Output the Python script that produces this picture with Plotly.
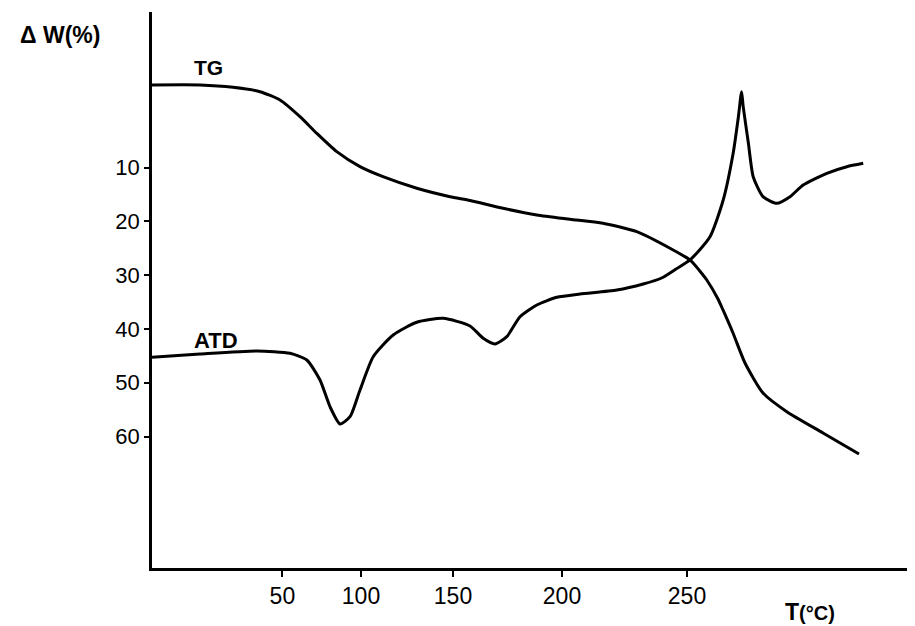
import plotly.graph_objects as go

# x: distance along the recorder chart (arbitrary units); temperature labels
# are placed where the recorder reached each temperature (non-uniform heating).
tg_x = [0, 12, 20.25, 27, 32, 37, 41.2, 46.2, 52, 57.75, 66.2, 74.5, 79.5, 87.75,
        96.2, 104.5, 112.75, 121.2, 129.5, 134.5, 137.75, 138.7, 141.5, 142.75,
        145.25, 148.25, 152.75, 158.7, 167.75, 176.75]
tg_w = [-5.33, -5.33, -4.90, -4.08, -2.54, 0.56, 3.65, 7.06, 9.85, 11.71, 13.86,
        15.42, 16.13, 17.58, 18.82, 19.62, 20.37, 21.93, 25.01, 27.18, 29.97, 30.9,
        34.43, 36.47, 40.75, 46.32, 51.89, 55.37, 59.32, 63.23]

atd_x = [0, 12, 26.2, 34.5, 38.7, 42, 44.5, 47, 49.5, 52, 55.3, 60.3, 66.2, 72.8,
         79.5, 82.8, 85.75, 88.7, 92, 96.2, 101.2, 107, 116.2, 122.8, 127.4, 131,
         134.5, 139.5, 142.8, 145.3, 146.6, 147.4, 147.8, 149.1, 150.3, 152.75,
         156.2, 159.5, 162.8, 168.7, 173.7, 177.8]
atd_s = [45.26, 44.65, 44.09, 44.52, 45.76, 49.48, 54.44, 57.65, 56.3, 51.34, 45.15,
         41.12, 38.76, 38.02, 39.45, 41.73, 42.79, 41.43, 37.72, 35.54, 34.11, 33.5,
         32.76, 31.64, 30.53, 28.86, 27.18, 22.86, 16.04, 7.3, 0.56, -4.08, -1.3,
         5.5, 11.71, 15.42, 16.65, 15.42, 13.25, 11.08, 9.85, 9.22]

temp_tick_pos = [32.6, 52.25, 75.25, 102.5, 133.75]
temp_tick_labels = ["50", "100", "150", "200", "250"]
w_ticks = [10, 20, 30, 40, 50, 60]

FONT = "Liberation Sans, Arial, sans-serif"

fig = go.Figure()
fig.add_trace(go.Scatter(x=tg_x, y=tg_w, mode="lines", name="TG",
                         line=dict(color="black", width=3, shape="spline", smoothing=0.6),
                         hoverinfo="skip"))
fig.add_trace(go.Scatter(x=atd_x, y=atd_s, mode="lines", name="ATD",
                         line=dict(color="black", width=3, shape="spline", smoothing=0.6),
                         hoverinfo="skip"))

# page body keeps an 8px margin, so the figure is 8px smaller in each direction
fig.update_layout(
    width=907, height=618,
    margin=dict(l=144, r=0, t=4, b=58),
    paper_bgcolor="white", plot_bgcolor="white",
    showlegend=False,
    font=dict(family=FONT, color="black"),
    xaxis=dict(range=[0, 190.75], showgrid=False, zeroline=False,
               showline=True, linecolor="black", linewidth=2.5,
               tickmode="array", tickvals=temp_tick_pos, ticktext=temp_tick_labels,
               ticks="outside", ticklen=6, tickwidth=2, tickcolor="black",
               tickfont=dict(size=23, family=FONT, color="black")),
    yaxis=dict(range=[84.41, -18.89], showgrid=False, zeroline=False,
               showline=True, linecolor="black", linewidth=2.5,
               tickmode="array", tickvals=w_ticks,
               ticktext=[str(v) for v in w_ticks],
               ticks="outside", ticklen=5, tickwidth=2, tickcolor="black",
               tickfont=dict(size=22, family=FONT, color="black")),
    annotations=[
        dict(text="<b>Δ W(%)</b>", xref="paper", yref="paper", x=-0.1206, y=0.9586,
             xanchor="center", yanchor="middle", showarrow=False,
             font=dict(size=23, family=FONT, color="black")),
        dict(text="<b>TG</b>", xref="x", yref="y", x=14, y=-8.49,
             xanchor="center", yanchor="middle", showarrow=False,
             font=dict(size=21, family=FONT, color="black")),
        dict(text="<b>ATD</b>", xref="x", yref="y", x=16, y=42.05,
             xanchor="center", yanchor="middle", showarrow=False,
             font=dict(size=22, family=FONT, color="black")),
        dict(text="<b><span style='font-size:23px'>T</span>(°C)</b>", xref="paper", yref="paper",
             x=0.862, y=-0.079, xanchor="center", yanchor="middle", showarrow=False,
             font=dict(size=20, family=FONT, color="black")),
    ],
)

fig.write_html("out.html")
